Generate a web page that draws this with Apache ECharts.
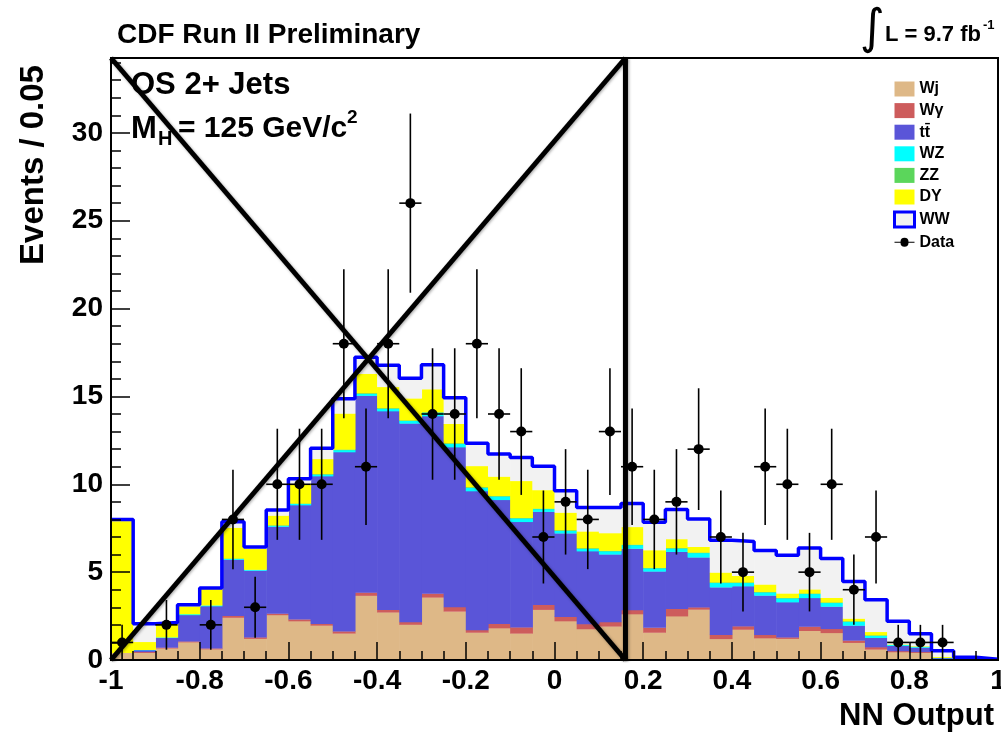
<!DOCTYPE html>
<html>
<head>
<meta charset="utf-8">
<script src="https://cdn.jsdelivr.net/npm/echarts@6/dist/echarts.min.js"></script>
<style>
  html, body { margin: 0; padding: 0; background: #fff; }
  #chart { width: 1001px; height: 735px; }
</style>
</head>
<body>
<div id="chart"></div>
<script>
// NN output histogram, 40 bins of 0.05 from -1 to 1
var binWidth = 0.05;
var xMin = -1, xMax = 1;
var yMax = 34.26;

// background components per bin (events)
var wj = [0.4, 0.4, 0.65, 1.0, 0.6, 2.4, 1.2, 2.55, 2.2, 1.95, 1.5, 3.65, 2.7, 2.0, 3.55, 2.75, 1.55, 1.8, 1.5, 2.85,
          2.2, 1.75, 1.9, 2.6, 1.55, 2.48, 2.86, 1.19, 1.72, 1.23, 1.2, 1.65, 1.53, 0.97, 0.59, 0.44, 0.4, 0.05, 0, 0];
var wg = [0, 0.05, 0.05, 0.05, 0.05, 0.1, 0.08, 0.08, 0.1, 0.1, 0.12, 0.18, 0.15, 0.15, 0.22, 0.25, 0.15, 0.25, 0.35, 0.28,
          0.25, 0.28, 0.25, 0.23, 0.28, 0.42, 0.13, 0.23, 0.19, 0.19, 0.08, 0.24, 0.23, 0.13, 0.13, 0.06, 0.05, 0, 0, 0];
var tt = [0, 0.1, 0.55, 1.5, 2.4, 3.2, 3.8, 4.95, 6.5, 8.4, 10.2, 11.2, 11.3, 11.3, 10.1, 9.1, 7.9, 7.05, 6.0, 5.3,
          4.75, 4.15, 3.85, 3.5, 3.2, 3.25, 2.84, 2.71, 2.28, 2.24, 2.0, 1.63, 1.27, 0.85, 0.53, 0.3, 0.25, 0.05, 0.02, 0];
var wz = [0, 0.02, 0.03, 0.05, 0.05, 0.05, 0.05, 0.06, 0.08, 0.1, 0.12, 0.12, 0.15, 0.15, 0.2, 0.2, 0.2, 0.2, 0.2, 0.15,
          0.15, 0.15, 0.18, 0.2, 0.18, 0.19, 0.25, 0.25, 0.19, 0.18, 0.22, 0.23, 0.21, 0.23, 0.13, 0.05, 0.05, 0.02, 0, 0];
var zz = [0, 0, 0, 0, 0, 0.02, 0, 0.02, 0.02, 0.03, 0.03, 0.03, 0.03, 0.03, 0.03, 0.03, 0.03, 0.03, 0.03, 0.03,
          0.03, 0.03, 0.03, 0.03, 0.03, 0.03, 0.03, 0.03, 0.03, 0.03, 0.03, 0.03, 0.03, 0.02, 0.02, 0.01, 0.01, 0, 0, 0];
var dy = [7.5, 0.45, 0.75, 0.45, 0.95, 1.75, 1.2, 0.55, 1.1, 0.85, 2.05, 1.1, 1.2, 1.25, 1.3, 1.1, 1.2, 1.1, 2.1, 1.05,
          1.0, 0.95, 1.0, 1.0, 1.0, 0.5, 0.32, 0.56, 0.37, 0.42, 0.25, 0.23, 0.26, 0.15, 0.19, 0.02, 0.02, 0.05, 0, 0];
var ww = [0.1, 1.05, 0.1, 0.1, 0.05, 0.35, 0.1, 0.33, 0.32, 0.62, 0.85, 0.95, 1.25, 1.15, 1.4, 1.5, 1.3, 1.3, 1.35, 1.37,
          1.25, 1.37, 1.47, 1.35, 1.6, 1.7, 1.6, 1.84, 1.97, 1.94, 2.18, 2.36, 2.24, 2.12, 1.84, 1.33, 0.71, 0.36, 0.13, 0.05];

// observed events per bin
var dataCounts = [1, 0, 2, 0, 2, 8, 3, 10, 10, 10, 18, 11, 18, 26, 14, 14, 18, 14, 13, 7,
                  9, 8, 13, 11, 8, 9, 12, 7, 5, 11, 10, 5, 10, 4, 7, 1, 1, 1, 0, 0];

// the big black cross drawn over the plot (data coordinates)
var crossLines = [
    [[-1, yMax], [0.16, 0]],
    [[-1, 0], [0.16, yMax]],
    [[0.16, 0], [0.16, yMax]]
];

var font = '"Liberation Sans", Arial, Helvetica, sans-serif';

var comps = [
    {name: 'Wj', color: '#deb887', values: wj},
    {name: 'W\u03b3', color: '#cd5c5c', values: wg},
    {name: 'tt\u0304', color: '#5a55d8', values: tt},
    {name: 'WZ', color: '#00ffff', values: wz},
    {name: 'ZZ', color: '#5bd65b', values: zz},
    {name: 'DY', color: '#ffff00', values: dy},
    {name: 'WW', color: '#f2f2f2', values: ww}
];

var chart = echarts.init(document.getElementById('chart'));

// stack the components bin by bin
var running = dataCounts.map(function () { return 0; });
var series = [];

function renderBin(params, api) {
    var x0 = api.value(0), x1 = api.value(1), b = api.value(2), t = api.value(3);
    if (t - b <= 0) return null;
    var p0 = api.coord([x0, b]);
    var p1 = api.coord([x1, t]);
    return {
        type: 'rect',
        shape: {x: p0[0], y: p1[1] - 0.3, width: p1[0] - p0[0] + 0.6, height: p0[1] - p1[1] + 0.3},
        style: {fill: api.visual('color')}
    };
}

comps.forEach(function (c) {
    var items = [];
    for (var i = 0; i < c.values.length; i++) {
        var lo = xMin + i * binWidth;
        items.push([lo, lo + binWidth, running[i], running[i] + c.values[i]]);
        running[i] += c.values[i];
    }
    series.push({
        type: 'custom',
        name: c.name,
        renderItem: renderBin,
        itemStyle: {color: c.color},
        data: items,
        clip: true,
        z: 2
    });
});

// blue WW outline on top of the stack
var outline = [];
for (var i = 0; i < running.length; i++) {
    outline.push([xMin + i * binWidth, running[i]]);
}
outline.push([xMax, running[running.length - 1]]);
series.push({
    type: 'line',
    name: 'WWline',
    data: outline,
    step: 'end',
    symbol: 'none',
    lineStyle: {color: '#0000ff', width: 3.5},
    z: 4
});

// data points with errors
var points = [];
dataCounts.forEach(function (n, i) {
    if (n > 0) points.push([xMin + (i + 0.5) * binWidth, n, Math.sqrt(n)]);
});
series.push({
    type: 'custom',
    name: 'Data',
    itemStyle: {color: '#000'},
    data: points,
    z: 15,
    renderItem: function (params, api) {
        var c = api.value(0), n = api.value(1), e = api.value(2);
        var pc = api.coord([c, n]);
        var pt = api.coord([c, n + e]);
        var pb = api.coord([c, Math.max(n - e, 0)]);
        var pl = api.coord([c - binWidth / 2, n]);
        var pr = api.coord([c + binWidth / 2, n]);
        return {
            type: 'group',
            children: [
                {type: 'line', shape: {x1: pc[0], y1: pt[1], x2: pc[0], y2: pb[1]}, style: {stroke: '#000', lineWidth: 1.6}},
                {type: 'line', shape: {x1: pl[0], y1: pc[1], x2: pr[0], y2: pc[1]}, style: {stroke: '#000', lineWidth: 1.6}},
                {type: 'circle', shape: {cx: pc[0], cy: pc[1], r: 5}, style: {fill: '#000'}}
            ]
        };
    }
});

crossLines.forEach(function (seg) {
    series.push({
        type: 'line',
        name: 'cross',
        data: seg,
        symbol: 'none',
        lineStyle: {color: '#000', width: 5, shadowColor: 'rgba(0,0,0,0.35)', shadowBlur: 3, shadowOffsetX: 1, shadowOffsetY: 1},
        z: 20
    });
});

var option = {
    backgroundColor: '#fff',
    animation: false,
    grid: {
        left: 111, top: 58, width: 887, height: 602,
        outerBoundsMode: 'none',
        containLabel: false,
        show: true, borderColor: '#000', borderWidth: 2, backgroundColor: 'transparent'
    },
    legend: {
        orient: 'vertical',
        left: 888,
        top: 76,
        itemWidth: 20,
        itemHeight: 15,
        itemGap: 5.6,
        selectedMode: false,
        textStyle: {fontFamily: font, fontWeight: 'bold', fontSize: 16, color: '#000', lineHeight: 16},
        data: [
            {name: 'Wj', icon: 'rect'},
            {name: 'W\u03b3', icon: 'rect'},
            {name: 'tt\u0304', icon: 'rect'},
            {name: 'WZ', icon: 'rect'},
            {name: 'ZZ', icon: 'rect'},
            {name: 'DY', icon: 'rect'},
            {name: 'WW', icon: 'rect', itemStyle: {color: '#f2f2f2', borderColor: '#0000ff', borderWidth: 3}},
            {name: 'Data', icon: 'path://M0,7 L6,7 A4,4 0 1,1 14,7 L20,7 L20,8 L14,8 A4,4 0 1,1 6,8 L0,8 Z'}
        ]
    },
    xAxis: {
        type: 'value',
        min: xMin,
        max: xMax,
        interval: 0.2,
        z: 10,
        axisLine: {onZero: false, lineStyle: {color: '#000', width: 2}},
        axisTick: {inside: true, length: 18, lineStyle: {color: '#000', width: 1.5}},
        minorTick: {show: true, splitNumber: 4, length: 9, lineStyle: {color: '#000', width: 1.5}},
        splitLine: {show: false},
        axisLabel: {fontFamily: font, fontWeight: 'bold', fontSize: 28, color: '#000', margin: 7, hideOverlap: false}
    },
    yAxis: [
        {
            type: 'value',
            min: 0,
            max: yMax,
            interval: 1,
            z: 10,
            axisLine: {show: true, onZero: false, lineStyle: {color: '#000', width: 2}},
            axisTick: {inside: true, length: 10, lineStyle: {color: '#000', width: 1.5}},
            axisLabel: {show: false},
            splitLine: {show: false}
        },
        {
            type: 'value',
            min: 0,
            max: yMax,
            interval: 5,
            position: 'left',
            z: 10,
            axisLine: {show: false, onZero: false},
            axisTick: {inside: true, length: 19, lineStyle: {color: '#000', width: 1.5}},
            splitLine: {show: false},
            axisLabel: {
                fontFamily: font, fontWeight: 'bold', fontSize: 28, color: '#000', margin: 8,
                showMaxLabel: false,
                formatter: function (v) { return (v % 5 === 0) ? String(v) : ''; }
            }
        }
    ],
    graphic: [
        {type: 'text', x: 117, y: 35, style: {text: 'CDF Run II Preliminary', font: 'bold 28px ' + font, fill: '#000', verticalAlign: 'middle'}},
        {type: 'text', x: 860, y: 31, style: {text: '\u222b', font: '48px "DejaVu Sans"', fill: '#000', verticalAlign: 'middle'}},
        {type: 'text', x: 885, y: 35, style: {text: 'L = 9.7 fb', font: 'bold 22px ' + font, fill: '#000', verticalAlign: 'middle'}},
        {type: 'text', x: 983, y: 25, style: {text: '-1', font: 'bold 13px ' + font, fill: '#000', verticalAlign: 'middle'}},
        {type: 'text', x: 131, y: 85, style: {text: 'OS 2+ Jets', font: 'bold 31px ' + font, fill: '#000', verticalAlign: 'middle'}},
        {type: 'text', x: 131, y: 129, style: {text: 'M', font: 'bold 31px ' + font, fill: '#000', verticalAlign: 'middle'}},
        {type: 'text', x: 158, y: 139, style: {text: 'H', font: 'bold 20px ' + font, fill: '#000', verticalAlign: 'middle'}},
        {type: 'text', x: 178, y: 129, style: {text: '= 125 GeV/c', font: 'bold 30px ' + font, fill: '#000', verticalAlign: 'middle'}},
        {type: 'text', x: 347, y: 118, style: {text: '2', font: 'bold 19px ' + font, fill: '#000', verticalAlign: 'middle'}},
        {type: 'text', x: 34, y: 165, rotation: Math.PI / 2, style: {text: 'Events / 0.05', font: 'bold 33px ' + font, fill: '#000', align: 'center', verticalAlign: 'middle'}},
        {type: 'text', x: 994, y: 716, style: {text: 'NN Output', font: 'bold 31px ' + font, fill: '#000', align: 'right', verticalAlign: 'middle'}}
    ],
    series: series
};

chart.setOption(option);
</script>
</body>
</html>
